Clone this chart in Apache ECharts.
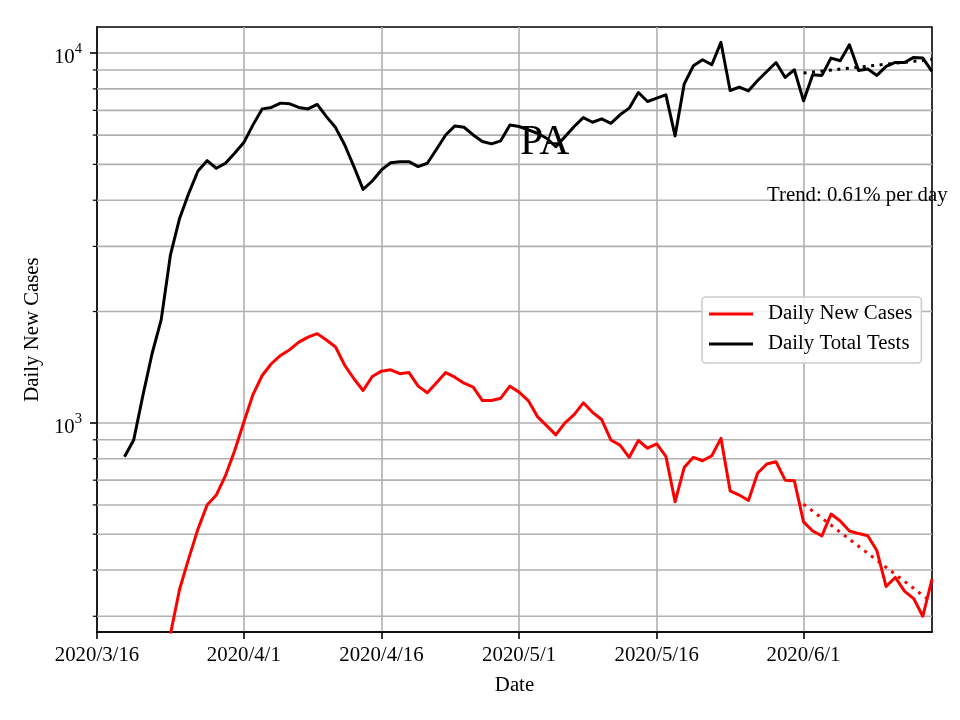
<!DOCTYPE html>
<html><head><meta charset="utf-8">
<script src="https://cdn.jsdelivr.net/npm/echarts@6/dist/echarts.min.js"></script>
<style>html,body{margin:0;padding:0;background:#fff}#c{width:960px;height:720px}</style>
</head><body><div id="c"></div>
<script>
// ---- data ----
const testsStart = '2020-03-19';
const testsValues = [810, 899, 1186, 1538, 1902, 2840, 3572, 4175, 4798, 5117,
  4880, 5035, 5358, 5726, 6394, 7063, 7126, 7321, 7290, 7126,
  7060, 7262, 6730, 6287, 5640, 4931, 4279, 4508, 4830, 5050,
  5085, 5085, 4931, 5035, 5495, 6005, 6353, 6300, 6005, 5763,
  5680, 5788, 6391, 6330, 6195, 6070, 5883, 5583, 5942, 6330,
  6690, 6500, 6640, 6457, 6807, 7096, 7823, 7395, 7550, 7709,
  5970, 8256, 9238, 9592, 9297, 10684, 7920, 8090, 7902, 8430,
  8916, 9430, 8590, 9012, 7424, 8732, 8700, 9692, 9530, 10532,
  8970, 9050, 8700, 9200, 9430, 9430, 9730, 9690, 8916];
const casesStart = '2020-03-24';
const casesValues = [268, 355, 430, 516, 600, 638, 720, 841, 1004, 1193,
  1343, 1445, 1522, 1577, 1654, 1706, 1743, 1675, 1604, 1430,
  1316, 1223, 1335, 1380, 1392, 1358, 1368, 1257, 1206, 1283,
  1368, 1329, 1280, 1249, 1149, 1149, 1166, 1257, 1211, 1149,
  1040, 983, 928, 1000, 1053, 1133, 1068, 1021, 899, 871,
  807, 896, 854, 877, 812, 612, 758, 807, 790, 815,
  908, 655, 638, 617, 732, 774, 785, 700, 697, 540,
  510, 495, 567, 543, 510, 502, 495, 451, 361, 382,
  351, 335, 300, 378];
const trendDates = ['2020-06-01', '2020-06-15'];
const testsTrend = [8830, 9615];
const casesTrend = [603, 327];
const xTickDates = ['2020-03-16', '2020-04-01', '2020-04-16', '2020-05-01', '2020-05-16', '2020-06-01'];
const xTickLabels = ['2020/3/16', '2020/4/1', '2020/4/16', '2020/5/1', '2020/5/16', '2020/6/1'];
const xRange = ['2020-03-16', '2020-06-15'];
const yRange = [272, 11760];
const yMajorTicks = [1000, 10000];
const yMinorTicks = [300, 400, 500, 600, 700, 800, 900, 2000, 3000, 4000, 5000, 6000, 7000, 8000, 9000];

// ---- helpers ----
function ts(s) { const p = s.split('-').map(Number); return Date.UTC(p[0], p[1] - 1, p[2]); }
function daily(start, vals) {
  const p = start.split('-').map(Number);
  return vals.map((v, i) => [Date.UTC(p[0], p[1] - 1, p[2] + i), v]);
}
const FONT = 'Liberation Serif';
const tickTs = xTickDates.map(ts);
const DAY = 86400000;

const chart = echarts.init(document.getElementById('c'), null, { renderer: 'canvas' });
chart.setOption({
  animation: false,
  backgroundColor: '#fff',
  textStyle: { fontFamily: FONT },
  title: [
    { text: 'PA', left: 520, top: 122, padding: 0,
      textStyle: { fontFamily: FONT, fontSize: 41.7, fontWeight: 'normal', color: '#000' } },
    { text: 'Trend: 0.61% per day', left: 767, top: 185, padding: 0,
      textStyle: { fontFamily: FONT, fontSize: 20.8, fontWeight: 'normal', color: '#000' } }
  ],
  grid: { left: 97, right: 28, top: 27, bottom: 88, show: true, borderColor: '#000', borderWidth: 1.6, backgroundColor: 'transparent' },
  legend: {
    orient: 'vertical', left: 702, top: 297, padding: [5, 9, 7, 7],
    itemWidth: 44, itemHeight: 3, itemGap: 6,
    backgroundColor: 'rgba(255,255,255,0.8)', borderColor: '#cccccc', borderWidth: 1.6, borderRadius: 4,
    textStyle: { fontFamily: FONT, fontSize: 20.8, color: '#000', lineHeight: 24, padding: [0, 0, 0, 10] },
    data: [{ name: 'Daily New Cases', icon: 'rect' }, { name: 'Daily Total Tests', icon: 'rect' }]
  },
  xAxis: {
    type: 'value', min: ts(xRange[0]), max: ts(xRange[1]),
    name: 'Date', nameLocation: 'middle', nameGap: 43,
    nameTextStyle: { fontFamily: FONT, fontSize: 20.8, color: '#000' },
    axisLine: { show: true, lineStyle: { color: '#000', width: 1.6 } },
    axisTick: { show: true, length: 7, lineStyle: { color: '#000', width: 1.6 }, customValues: tickTs },
    axisLabel: {
      customValues: tickTs, margin: 13, fontFamily: FONT, fontSize: 20.8, color: '#000',
      formatter: function (v) {
        for (let i = 0; i < tickTs.length; i++) if (Math.abs(tickTs[i] - v) < DAY / 2) return xTickLabels[i];
        return '';
      }
    },
    splitLine: { show: true, lineStyle: { color: '#b0b0b0', width: 1.6 } }
  },
  yAxis: {
    type: 'log', logBase: 10, min: yRange[0], max: yRange[1],
    name: 'Daily New Cases', nameLocation: 'middle', nameGap: 54, nameRotate: 90,
    nameTextStyle: { fontFamily: FONT, fontSize: 20.8, color: '#000' },
    axisLine: { show: true, lineStyle: { color: '#000', width: 1.6 } },
    axisTick: { show: true, length: 7, lineStyle: { color: '#000', width: 1.6 }, customValues: yMajorTicks },
    axisLabel: {
      customValues: yMajorTicks, margin: 15, color: '#000',
      formatter: function (v) {
        const l = Math.log10(v), e = Math.round(l);
        if (Math.abs(l - e) > 1e-6) return '';
        return '{b|10}{s|' + e + '}';
      },
      rich: {
        b: { fontFamily: FONT, fontSize: 20.8, lineHeight: 30, verticalAlign: 'bottom', color: '#000' },
        s: { fontFamily: FONT, fontSize: 14.6, lineHeight: 30, verticalAlign: 'top', padding: [3.4, 0, 0, 0], color: '#000' }
      }
    },
    splitLine: { show: true, lineStyle: { color: '#b0b0b0', width: 1.6 } }
  },
  series: [
    {
      type: 'custom', name: 'minor', silent: true, z: 1, clip: false,
      data: yMinorTicks.map(v => [ts(xRange[0]), v]),
      renderItem: function (params, api) {
        const cs = params.coordSys;
        const y = api.coord([api.value(0), api.value(1)])[1];
        return { type: 'group', children: [
          { type: 'line', shape: { x1: cs.x, y1: y, x2: cs.x + cs.width, y2: y }, style: { stroke: '#b0b0b0', lineWidth: 1.6 } },
          { type: 'line', shape: { x1: cs.x - 4.2, y1: y, x2: cs.x, y2: y }, style: { stroke: '#000', lineWidth: 1.2 } }
        ] };
      }
    },
    {
      type: 'line', name: 'Daily New Cases', data: daily(casesStart, casesValues),
      showSymbol: false, symbol: 'none', z: 3, color: '#ff0000',
      lineStyle: { color: '#ff0000', width: 3, join: 'round', cap: 'butt' }
    },
    {
      type: 'line', name: 'Daily Total Tests', data: daily(testsStart, testsValues),
      showSymbol: false, symbol: 'none', z: 3, color: '#000000',
      lineStyle: { color: '#000000', width: 3, join: 'round', cap: 'butt' }
    },
    {
      type: 'line', name: 'casesTrend', data: trendDates.map((d, i) => [ts(d), casesTrend[i]]),
      showSymbol: false, symbol: 'none', z: 4, color: '#ff0000',
      lineStyle: { color: '#ff0000', width: 3, type: [3, 5.5], cap: 'butt' }
    },
    {
      type: 'line', name: 'testsTrend', data: trendDates.map((d, i) => [ts(d), testsTrend[i]]),
      showSymbol: false, symbol: 'none', z: 4, color: '#000000',
      lineStyle: { color: '#000000', width: 3, type: [3, 5.5], cap: 'butt' }
    }
  ]
});
</script>
</body></html>
